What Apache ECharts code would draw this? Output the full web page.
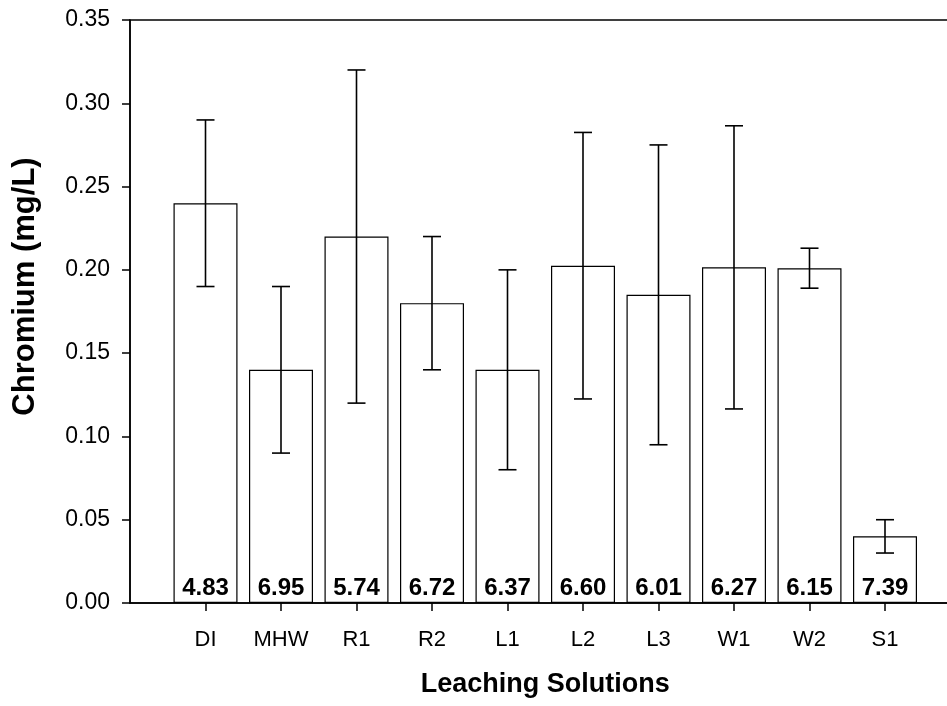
<!DOCTYPE html>
<html>
<head>
<meta charset="utf-8">
<script src="https://cdn.jsdelivr.net/npm/echarts@6/dist/echarts.min.js"></script>
<style>
html,body{margin:0;padding:0;background:#fff;}
#chart{width:947px;height:706px;}
</style>
</head>
<body>
<div id="chart"></div>
<script>
const categories = ['DI', 'MHW', 'R1', 'R2', 'L1', 'L2', 'L3', 'W1', 'W2', 'S1'];
const chromium = [0.24, 0.14, 0.22, 0.18, 0.14, 0.2025, 0.185, 0.2015, 0.201, 0.04];
const errLow = [0.19, 0.09, 0.12, 0.14, 0.08, 0.1225, 0.095, 0.1165, 0.189, 0.03];
const errHigh = [0.29, 0.19, 0.32, 0.22, 0.20, 0.2825, 0.275, 0.2865, 0.213, 0.05];
const phLabels = ['4.83', '6.95', '5.74', '6.72', '6.37', '6.60', '6.01', '6.27', '6.15', '7.39'];

const axisCats = [''].concat(categories, ['']);
const barData = ['-'].concat(chromium, ['-']);
const errData = categories.map((c, i) => [i + 1, errLow[i], errHigh[i]]);

const FONT = '"Liberation Sans", Arial, sans-serif';
const chart = echarts.init(document.getElementById('chart'));
chart.setOption({
  animation: false,
  backgroundColor: '#fff',
  grid: {
    left: 130, right: -13.5, top: 20, bottom: 103,
    outerBoundsMode: 'none',
    containLabel: false,
    show: true, borderColor: '#000', borderWidth: 1.5, backgroundColor: 'transparent'
  },
  xAxis: {
    type: 'category',
    data: axisCats,
    boundaryGap: false,
    name: 'Leaching Solutions',
    nameLocation: 'middle',
    nameGap: 68,
    nameTextStyle: { fontFamily: FONT, fontSize: 27, fontWeight: 'bold', color: '#000' },
    axisLine: { lineStyle: { color: '#000', width: 1.5 } },
    axisTick: {
      length: 8,
      lineStyle: { color: '#000', width: 1.5 },
      interval: function (i) { return i >= 1 && i <= categories.length; }
    },
    axisLabel: {
      interval: 0, margin: 26,
      fontFamily: FONT, fontSize: 22, color: '#000'
    },
    splitLine: { show: false }
  },
  yAxis: {
    type: 'value',
    min: 0, max: 0.35, interval: 0.05,
    name: 'Chromium (mg/L)',
    nameLocation: 'middle',
    nameGap: 89,
    nameTextStyle: { fontFamily: FONT, fontSize: 31, fontWeight: 'bold', color: '#000', padding: [0, 0, 0, 50] },
    axisLine: { show: true, lineStyle: { color: '#000', width: 1.5 } },
    axisTick: { show: true, length: 8, lineStyle: { color: '#000', width: 1.5 } },
    axisLabel: {
      margin: 20,
      fontFamily: FONT, fontSize: 23, color: '#000',
      formatter: v => v.toFixed(2)
    },
    splitLine: { show: false }
  },
  series: [
    {
      type: 'bar',
      data: barData,
      barWidth: 64,
      itemStyle: { color: '#fff', borderColor: '#000', borderWidth: 1.2 },
      label: {
        show: true,
        position: 'insideBottom',
        distance: 3,
        fontFamily: FONT, fontSize: 24, fontWeight: 'bold', color: '#000',
        formatter: p => phLabels[p.dataIndex - 1]
      },
      z: 2
    },
    {
      type: 'custom',
      data: errData,
      z: 3,
      renderItem: function (params, api) {
        const x = api.value(0);
        const lo = api.coord([x, api.value(1)]);
        const hi = api.coord([x, api.value(2)]);
        const hw = 9;
        const st = { stroke: '#000', lineWidth: 1.6 };
        return {
          type: 'group',
          children: [
            { type: 'line', shape: { x1: lo[0], y1: lo[1], x2: hi[0], y2: hi[1] }, style: st },
            { type: 'line', shape: { x1: hi[0] - hw, y1: hi[1], x2: hi[0] + hw, y2: hi[1] }, style: st },
            { type: 'line', shape: { x1: lo[0] - hw, y1: lo[1], x2: lo[0] + hw, y2: lo[1] }, style: st }
          ]
        };
      }
    }
  ]
});
</script>
</body>
</html>
